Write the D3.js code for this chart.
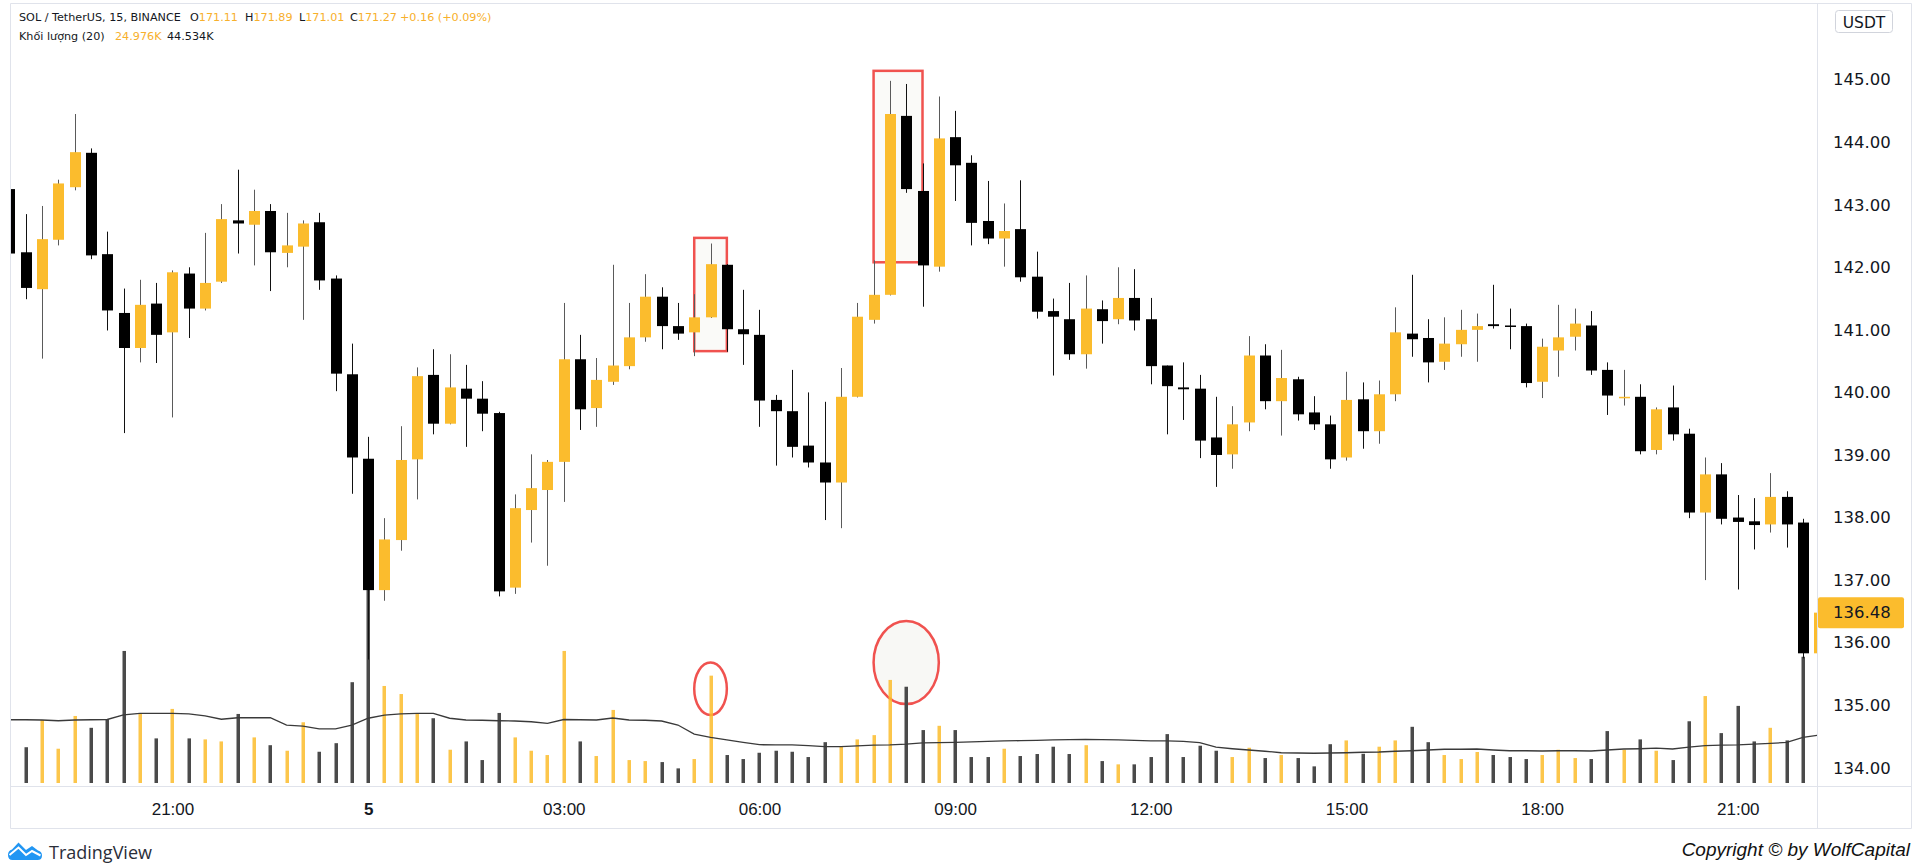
<!DOCTYPE html>
<html>
<head>
<meta charset="utf-8">
<title>SOL / TetherUS, 15, BINANCE</title>
<script src="https://cdn.jsdelivr.net/npm/d3@7"></script>
<style>
  body { margin: 0; background: #fff; }
  svg { display: block; }
</style>
</head>
<body>
<div id="chart"></div>
<script>
'use strict';

// 15 minute candles, the first one opens 18:30 on the 4th
const startTime = Date.UTC(2024, 7, 4, 18, 30);

const open = [143.25, 142.24, 141.65, 142.44, 143.28, 143.83, 142.21, 141.27, 140.71, 141.42,
  140.96, 141.90, 141.34, 141.77, 142.75, 142.68, 142.90, 142.23, 142.33, 142.72,
  141.82, 140.29, 138.94, 136.84, 137.64, 138.93, 140.28, 139.50, 140.06, 139.90,
  139.67, 136.88, 138.12, 138.44, 138.89, 140.53, 139.75, 140.17, 140.42, 140.88,
  141.53, 141.06, 140.96, 141.20, 142.04, 141.01, 140.92, 139.88, 139.70, 139.15,
  138.88, 138.56, 139.93, 141.16, 141.56, 144.42, 143.22, 142.01, 144.08, 143.67,
  142.74, 142.46, 142.61, 141.85, 141.30, 141.17, 140.61, 141.33, 141.17, 141.51,
  141.17, 140.43, 140.08, 140.06, 139.28, 139.01, 139.52, 140.59, 139.86, 140.21,
  139.68, 139.49, 138.96, 139.89, 139.38, 139.97, 140.94, 140.87, 140.49, 140.77,
  141.00, 141.09, 141.07, 141.06, 140.17, 140.67, 140.89, 141.07, 140.36, 139.92,
  139.93, 139.08, 139.76, 139.34, 138.08, 138.69, 138.00, 137.94, 137.89, 138.33,
  137.92, 135.83];

const high = [143.30, 142.85, 142.98, 143.40, 144.45, 143.90, 142.57, 141.66, 141.80, 141.75,
  141.95, 142.00, 142.55, 143.01, 143.56, 143.24, 143.01, 142.87, 142.75, 142.87,
  141.87, 140.78, 139.29, 137.99, 139.46, 140.40, 140.69, 140.61, 140.44, 140.18,
  139.69, 138.37, 139.01, 138.92, 141.43, 140.92, 140.55, 142.04, 141.43, 141.89,
  141.68, 141.43, 141.57, 142.38, 142.05, 141.64, 141.32, 139.96, 140.36, 140.00,
  139.85, 140.39, 141.43, 142.11, 144.98, 144.93, 143.66, 144.73, 144.50, 143.79,
  143.38, 143.02, 143.39, 142.25, 141.50, 141.75, 141.87, 141.47, 142.00, 141.97,
  141.51, 140.43, 140.48, 140.28, 139.93, 139.78, 140.90, 140.77, 140.68, 140.25,
  139.94, 139.63, 140.33, 140.16, 140.19, 141.36, 141.88, 141.17, 141.20, 141.32,
  141.26, 141.72, 141.34, 141.10, 140.86, 141.40, 141.34, 141.30, 140.48, 140.36,
  140.13, 139.76, 140.11, 139.42, 138.96, 138.87, 138.36, 138.31, 138.71, 138.42,
  137.98, 136.60];

const low = [142.20, 141.49, 140.54, 142.35, 143.23, 142.13, 140.99, 139.35, 140.48, 140.47,
  139.60, 140.87, 141.31, 141.75, 142.22, 142.03, 141.62, 142.00, 141.16, 141.64,
  140.02, 138.38, 135.73, 136.67, 137.47, 138.29, 139.33, 139.49, 139.13, 139.38,
  136.74, 136.78, 137.60, 137.23, 138.25, 139.40, 139.45, 140.12, 140.37, 140.81,
  140.69, 140.84, 140.58, 141.19, 140.65, 140.44, 139.45, 138.83, 138.96, 138.80,
  137.96, 137.83, 139.92, 141.10, 141.55, 143.19, 141.37, 141.93, 143.06, 142.35,
  142.37, 142.01, 141.77, 141.18, 140.27, 140.52, 140.38, 140.78, 141.09, 140.99,
  140.13, 139.33, 139.56, 138.95, 138.49, 138.78, 139.38, 139.73, 139.31, 139.55,
  139.40, 138.78, 138.91, 139.10, 139.18, 139.86, 140.57, 140.16, 140.36, 140.57,
  140.49, 141.02, 140.69, 140.08, 139.91, 140.25, 140.67, 140.28, 139.64, 139.79,
  139.01, 139.01, 139.23, 137.99, 137.00, 137.89, 136.85, 137.49, 137.76, 137.52,
  135.75, 135.80];

const close = [142.22, 141.67, 142.45, 143.34, 143.84, 142.19, 141.31, 140.71, 141.40, 140.92,
  141.92, 141.34, 141.75, 142.77, 142.70, 142.90, 142.24, 142.35, 142.70, 141.79,
  140.30, 138.96, 136.84, 137.65, 138.92, 140.26, 139.50, 140.08, 139.90, 139.66,
  136.82, 138.15, 138.47, 138.89, 140.53, 139.73, 140.20, 140.43, 140.88, 141.53,
  141.06, 140.94, 141.20, 142.05, 141.01, 140.93, 139.87, 139.70, 139.13, 138.88,
  138.56, 139.93, 141.21, 141.56, 144.45, 143.25, 142.03, 144.06, 143.63, 142.71,
  142.46, 142.58, 141.84, 141.29, 141.21, 140.61, 141.34, 141.14, 141.51, 141.15,
  140.42, 140.10, 140.05, 139.23, 139.00, 139.49, 140.59, 139.86, 140.23, 139.65,
  139.49, 138.93, 139.88, 139.38, 139.97, 140.96, 140.85, 140.48, 140.78, 141.00,
  141.06, 141.06, 141.06, 140.15, 140.73, 140.88, 141.10, 140.35, 139.95, 139.93,
  139.06, 139.73, 139.33, 138.08, 138.69, 137.98, 137.93, 137.88, 138.33, 137.89,
  135.83, 136.48];

// volume in thousands of SOL
const volume = [15.0, 14.2, 25.0, 13.6, 26.6, 21.9, 25.3, 52.4, 27.4, 17.7,
  29.4, 17.7, 17.3, 16.5, 27.4, 18.1, 15.0, 12.8, 24.1, 12.4,
  15.8, 40.0, 78.0, 38.5, 35.3, 27.4, 25.7, 13.2, 16.5, 9.1,
  27.8, 18.1, 12.8, 11.1, 52.4, 16.5, 10.7, 29.0, 9.1, 8.7,
  8.3, 5.8, 9.5, 42.6, 11.1, 9.5, 12.0, 12.8, 12.4, 10.3,
  16.2, 14.4, 17.3, 19.0, 40.9, 38.2, 21.0, 22.7, 21.0, 10.3,
  10.3, 13.6, 10.7, 11.5, 14.4, 11.5, 15.0, 8.7, 7.4, 7.4,
  10.3, 19.4, 10.3, 14.8, 12.8, 10.3, 14.0, 9.9, 11.1, 9.9,
  6.6, 15.4, 16.9, 11.6, 14.4, 16.9, 22.3, 16.2, 11.1, 9.5,
  12.3, 11.1, 10.3, 9.5, 11.1, 13.2, 9.9, 9.5, 20.6, 13.2,
  17.3, 12.8, 9.1, 24.5, 34.5, 19.8, 30.6, 16.5, 21.9, 16.9,
  50.1, 12.0];

// volume moving average (20), as drawn
const volumeMA = [25.1, 25.1, 25.0, 24.7, 25.0, 25.1, 25.2, 27.0, 27.6, 27.6,
  27.6, 27.4, 26.6, 25.3, 25.9, 25.9, 25.9, 23.0, 22.6, 21.5,
  21.5, 23.0, 25.7, 26.9, 27.4, 27.6, 27.6, 25.7, 25.0, 24.9,
  24.7, 24.6, 24.3, 23.7, 25.2, 25.1, 25.0, 25.8, 25.0, 24.9,
  24.6, 23.0, 19.4, 18.1, 17.1, 16.1, 15.2, 15.1, 15.1, 14.8,
  14.4, 14.4, 14.7, 15.0, 15.1, 15.4, 15.9, 16.0, 16.1, 16.3,
  16.5, 16.7, 16.8, 16.9, 17.1, 17.2, 17.3, 17.2, 17.1, 16.9,
  16.7, 16.7, 16.5, 16.0, 14.2, 13.6, 13.1, 12.6, 12.0, 11.9,
  11.8, 11.9, 12.0, 12.2, 12.3, 12.6, 12.8, 13.1, 13.4, 13.4,
  13.5, 13.1, 12.8, 12.8, 12.7, 12.8, 12.8, 12.7, 13.1, 13.5,
  13.6, 13.8, 13.5, 14.2, 14.8, 15.0, 15.1, 15.4, 15.7, 16.1,
  18.1, 19.0];

const priceTicks = [134, 135, 136, 137, 138, 139, 140, 141, 142, 143, 144, 145];

// red drawings: boxes on the price pane, ellipses on the volume bars
const boxes = [
  {from: 42, to: 44, top: 142.47, bottom: 140.66},
  {from: 53, to: 56, top: 145.14, bottom: 142.08}
];
const rings = [
  {from: 42, to: 44, top: 47.8, bottom: 27.0, filled: false},
  {from: 53, to: 57, top: 64.3, bottom: 31.3, filled: true}
];

const UP = '#fbbc2d';
const DOWN = '#000000';
const AXIS_FONT = '"DejaVu Sans", Verdana, sans-serif';
const TIME_FONT = '"Liberation Sans", Arial, sans-serif';

class CandleChart {
  /*
   - container: DOM selector
   - width, height: svg size
   - pane: {left, right, top, bottom} of the price pane
   */

  #scaleX;
  #scaleY;
  #scaleV;

  constructor(container, width, height, pane) {
    this.width = width;
    this.height = height;
    this.pane = pane;

    this.svg = d3.select(container)
      .append('svg')
      .attr('width', this.width)
      .attr('height', this.height)
      .style('background', '#fff');

    this.svg.append('defs').append('clipPath')
      .attr('id', 'pane-clip')
      .append('rect')
      .attr('x', pane.left)
      .attr('y', pane.top)
      .attr('width', pane.right - pane.left)
      .attr('height', pane.bottom - pane.top);

    this.chart = this.svg.append('g').attr('clip-path', 'url(#pane-clip)');

    this.#scaleX = d3.scaleUtc();
    this.#scaleY = d3.scaleLinear();
    this.#scaleV = d3.scaleLinear();
  }

  #updateScales() {
    let t = this.data.map(d => d.time);
    // candle 0 sits half clipped on the left border, candle 110 is the last full one
    this.#scaleX.domain([t[0], t[110]]).range([9.4, 1803]);
    this.#scaleY.domain([134, 145]).range([767.8, 79.6]);
    this.#scaleV.domain([0, 100]).range([783, 531]);
  }

  #drawFrame() {
    let p = this.pane;
    let lines = [
      [p.left, 3, p.left, 828], [1911, 3, 1911, 828], [p.right, 3, p.right, 828],
      [p.left, 3, 1911, 3], [p.left, p.bottom, 1911, p.bottom], [p.left, 828, 1911, 828]
    ];
    this.svg.append('g').selectAll('line')
      .data(lines)
      .join('line')
      .attr('x1', d => d[0] + 0.5).attr('y1', d => d[1] + 0.5)
      .attr('x2', d => d[2] + 0.5).attr('y2', d => d[3] + 0.5)
      .attr('stroke', '#e0e3eb')
      .attr('stroke-width', 1);
  }

  // red boxes and ellipses sit under the candles
  #drawMarks() {
    const x = this.#scaleX, y = this.#scaleY, v = this.#scaleV;
    const at = i => x(this.data[i].time);

    this.chart.append('g').selectAll('rect.box')
      .data(boxes)
      .join('rect')
      .classed('box', true)
      .attr('x', d => at(d.from))
      .attr('y', d => y(d.top))
      .attr('width', d => at(d.to) - at(d.from))
      .attr('height', d => y(d.bottom) - y(d.top))
      .attr('fill', '#fafaf8')
      .attr('stroke', '#f0524f')
      .attr('stroke-width', 2.5);

    this.chart.append('g').selectAll('ellipse')
      .data(rings)
      .join('ellipse')
      .attr('cx', d => (at(d.from) + at(d.to)) / 2)
      .attr('cy', d => (v(d.top) + v(d.bottom)) / 2)
      .attr('rx', d => (at(d.to) - at(d.from)) / 2)
      .attr('ry', d => (v(d.bottom) - v(d.top)) / 2)
      .attr('fill', d => d.filled ? '#f8f8f5' : 'none')
      .attr('stroke', '#f0524f')
      .attr('stroke-width', 2.5);
  }

  render(data) {
    this.data = data;
    this.#updateScales();
    const x = this.#scaleX, y = this.#scaleY, v = this.#scaleV;
    const cx = d => Math.round(x(d.time));

    this.#drawFrame();
    this.#drawMarks();

    // volume columns
    this.chart.append('g').selectAll('rect.vol')
      .data(this.data)
      .join('rect')
      .classed('vol', true)
      .attr('x', d => cx(d) - 1.5)
      .attr('y', d => v(d.volume))
      .attr('width', 3.5)
      .attr('height', d => v(0) - v(d.volume))
      .attr('fill', d => d.close >= d.open ? 'rgba(251,188,44,0.85)' : '#4a4a4a');

    // volume MA
    this.chart.append('path')
      .datum(this.data)
      .attr('fill', 'none')
      .attr('stroke', '#3a3a3a')
      .attr('stroke-width', 1.3)
      .attr('d', d3.line().x(d => x(d.time)).y(d => v(d.ma)));

    // wicks
    this.chart.append('g').selectAll('line.wick')
      .data(this.data)
      .join('line')
      .classed('wick', true)
      .attr('x1', d => cx(d) + 0.5).attr('x2', d => cx(d) + 0.5)
      .attr('y1', d => y(d.high)).attr('y2', d => y(d.low))
      .attr('stroke', d => d.close >= d.open ? '#5a5a5a' : '#111')
      .attr('stroke-width', 1);

    // bodies
    this.chart.append('g').selectAll('rect.body')
      .data(this.data)
      .join('rect')
      .classed('body', true)
      .attr('x', d => cx(d) - 5)
      .attr('y', d => y(Math.max(d.open, d.close)))
      .attr('width', 11)
      .attr('height', d => Math.max(1.5, Math.abs(y(d.open) - y(d.close))))
      .attr('fill', d => d.close >= d.open ? UP : DOWN);

    this.#drawAxes();
    this.#drawLegend();
  }

  #drawAxes() {
    const x = this.#scaleX, y = this.#scaleY;
    let last = this.data[this.data.length - 1];

    // price axis
    let yAxis = this.svg.append('g')
      .attr('transform', `translate(${this.pane.right},0)`)
      .call(d3.axisRight(y).tickValues(priceTicks).tickFormat(d3.format('.2f')).tickSize(0).tickPadding(16));
    yAxis.select('.domain').remove();
    yAxis.selectAll('text')
      .attr('fill', '#131722')
      .style('font-family', AXIS_FONT)
      .style('font-size', '16.5px');

    // last price label
    let lp = this.svg.append('g').attr('transform', `translate(${this.pane.right + 1},${y(last.close)})`);
    lp.append('rect')
      .attr('x', 0).attr('y', -15.5)
      .attr('width', 86).attr('height', 31)
      .attr('rx', 2)
      .attr('fill', UP);
    lp.append('text')
      .attr('x', 15).attr('dy', '0.35em')
      .attr('fill', '#131722')
      .style('font-family', AXIS_FONT)
      .style('font-size', '16.5px')
      .text(d3.format('.2f')(last.close));

    // currency button
    this.svg.append('rect')
      .attr('x', 1835.5).attr('y', 10.5)
      .attr('width', 57).attr('height', 22)
      .attr('rx', 3)
      .attr('fill', '#fff')
      .attr('stroke', '#d1d4dc');
    this.svg.append('text')
      .attr('x', 1864).attr('y', 27.5)
      .attr('text-anchor', 'middle')
      .attr('fill', '#131722')
      .style('font-family', AXIS_FONT)
      .style('font-size', '15.5px')
      .text('USDT');

    // time axis, a day change shows the day number
    let xAxis = this.svg.append('g')
      .attr('transform', `translate(0,${this.pane.bottom})`)
      .call(d3.axisBottom(x)
        .ticks(d3.utcHour.every(3))
        .tickFormat(d => d.getUTCHours() === 0 ? d3.utcFormat('%-d')(d) : d3.utcFormat('%H:%M')(d))
        .tickSize(0).tickPadding(17));
    xAxis.select('.domain').remove();
    xAxis.selectAll('text')
      .attr('fill', '#131722')
      .style('font-family', TIME_FONT)
      .style('font-size', '17px')
      .style('font-weight', d => d.getUTCHours() === 0 ? 'bold' : 'normal');
  }

  #drawLegend() {
    let orange = '#f7b02c', ink = '#131722';
    let head = this.svg.append('text')
      .attr('y', 21)
      .style('font-family', AXIS_FONT)
      .style('font-size', '11.2px');
    let parts = [
      [19, 'SOL / TetherUS, 15, BINANCE', ink], [190, 'O', ink], [null, '171.11', orange],
      [245, 'H', ink], [null, '171.89', orange], [299, 'L', ink], [null, '171.01', orange],
      [350, 'C', ink], [null, '171.27', orange], [400, '+0.16 (+0.09%)', orange]
    ];
    parts.forEach(([px, s, c]) => {
      let ts = head.append('tspan').attr('fill', c).text(s);
      if (px !== null) ts.attr('x', px);
    });

    let vol = this.svg.append('text')
      .attr('y', 39.5)
      .style('font-family', AXIS_FONT)
      .style('font-size', '11.2px');
    vol.append('tspan').attr('x', 19).attr('fill', ink).text('Khối lượng (20)');
    vol.append('tspan').attr('x', 115).attr('fill', orange).text('24.976K');
    vol.append('tspan').attr('x', 167).attr('fill', ink).text('44.534K');

    // TradingView mark
    let logo = this.svg.append('g').attr('transform', 'translate(8,842)');
    logo.append('path')
      .attr('d', 'M0,13 Q0,8.5 4,7.5 L10.5,0.5 L18,8 L24,4 L30,8.5 Q34,9.5 34,13.5 Q34,18 29.5,18 L4.5,18 Q0,18 0,13 Z')
      .attr('fill', '#2196f3');
    logo.append('path')
      .attr('d', 'M1.5,13 L10.5,5.5 L18,13 L24,9 L32.5,13.5')
      .attr('fill', 'none')
      .attr('stroke', '#fff')
      .attr('stroke-width', 2);
    this.svg.append('text')
      .attr('x', 49).attr('y', 858.5)
      .attr('fill', '#2a2e39')
      .style('font-family', '"Open Sans", sans-serif')
      .style('font-size', '18px')
      .text('TradingView');

    this.svg.append('text')
      .attr('x', 1910).attr('y', 856)
      .attr('text-anchor', 'end')
      .attr('fill', '#111')
      .style('font-family', TIME_FONT)
      .style('font-style', 'italic')
      .style('font-size', '19px')
      .text('Copyright © by WolfCapital');
  }
}

let candles = open.map((o, i) => ({
  time: new Date(startTime + i * 15 * 60 * 1000),
  open: o, high: high[i], low: low[i], close: close[i],
  volume: volume[i], ma: volumeMA[i]
}));

let chart = new CandleChart('#chart', 1920, 867, {left: 10, right: 1817, top: 3, bottom: 786});
chart.render(candles);
</script>
</body>
</html>
